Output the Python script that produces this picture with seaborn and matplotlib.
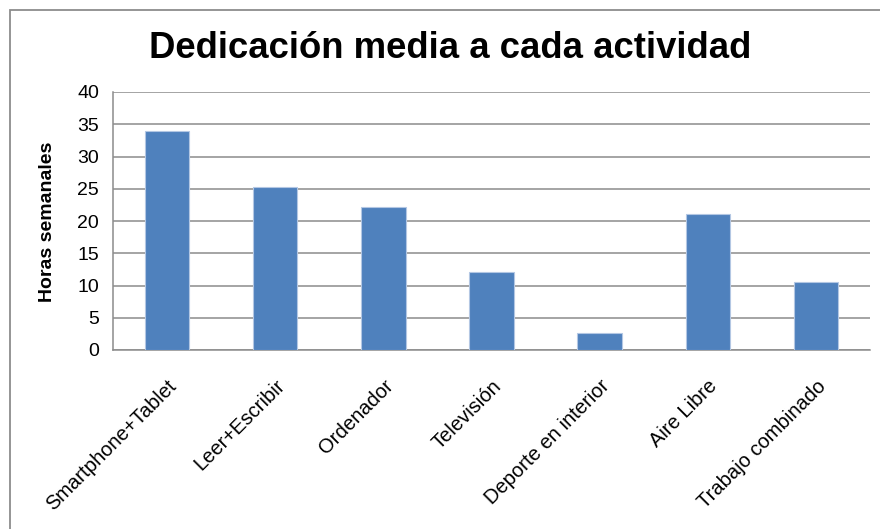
import matplotlib
matplotlib.use("Agg")
import matplotlib.pyplot as plt
import seaborn as sns
import pandas as pd
from matplotlib.patches import Rectangle

categories = ["Smartphone+Tablet", "Leer+Escribir", "Ordenador", "Televisión",
              "Deporte en interior", "Aire Libre", "Trabajo combinado"]
values = [33.9, 25.2, 22.1, 12.1, 2.6, 21.1, 10.5]
yticks = [0, 5, 10, 15, 20, 25, 30, 35, 40]

sns.set_theme(style="white")
plt.rcParams['font.family'] = ['Liberation Sans', 'DejaVu Sans']

df = pd.DataFrame({"cat": categories, "val": values})

W, H = 880, 529
fig = plt.figure(figsize=(W / 100, H / 100), dpi=100)
fig.patch.set_facecolor("white")
ax = fig.add_axes([113 / W, 1 - 350 / H, (870 - 113) / W, (350 - 92) / H])

sns.barplot(data=df, x="cat", y="val", ax=ax, color="#4F81BD", saturation=1,
            width=0.41, edgecolor="#B3C7E3", linewidth=0.8, zorder=3)

ax.set_ylim(0, 40)
ax.set_xlim(-0.5, len(categories) - 0.5)
ax.set_yticks(yticks)
ax.set_yticklabels([str(t) for t in yticks], fontsize=14, color="black")
ax.yaxis.grid(True, color="#8C8C8C", linewidth=1.1, zorder=0)
ax.set_axisbelow(True)

# category boundary ticks
ax.set_xticks([i - 0.5 for i in range(len(categories) + 1)], minor=False)
ax.set_xticklabels([])
ax.set_xticks(range(len(categories)), minor=True)
ax.set_xticklabels(categories, minor=True, rotation=45, ha="right",
                   rotation_mode="anchor", fontsize=14.5, color="black")
ax.tick_params(axis="x", which="major", length=5, width=1, color="#8C8C8C", direction="out")
ax.tick_params(axis="x", which="minor", length=0, pad=19)
ax.tick_params(axis="y", which="major", length=6, width=1, color="#8C8C8C", direction="out", pad=4)

for s in ["top", "right"]:
    ax.spines[s].set_visible(False)
for s in ["left", "bottom"]:
    ax.spines[s].set_color("#8C8C8C")
    ax.spines[s].set_linewidth(1.1)

ax.set_xlabel("")
ax.set_ylabel("")

fig.text(450 / W, 1 - 48 / H, "Dedicación media a cada actividad", ha="center", va="center",
         fontsize=26.3, fontweight="bold", color="black")
fig.text(48 / W, 1 - 222 / H, "Horas semanales", ha="center", va="center", rotation=90,
         fontsize=14, fontweight="bold", color="black")

fig.patches.append(Rectangle((10 / W, -0.1), 1.2, 1 - 10 / H + 0.1, transform=fig.transFigure,
                             fill=False, edgecolor="#8C8C8C", linewidth=1.3, zorder=10))

fig.savefig("out.png", dpi=100)
